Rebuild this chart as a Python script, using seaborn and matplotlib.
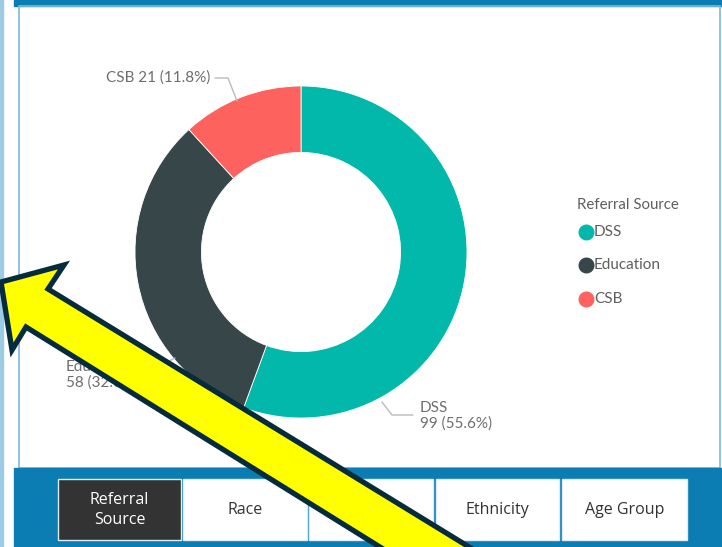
import matplotlib
matplotlib.use("Agg")
import matplotlib.pyplot as plt
from matplotlib.patches import Rectangle, Polygon
import seaborn as sns

# data
sources = ["DSS", "Education", "CSB"]
counts = [99, 58, 21]
source_colors = ["#01B8AA", "#374649", "#FD625E"]
legend_title = "Referral Source"
buttons = ["Referral\nSource", "Race", "", "Ethnicity", "Age Group"]

sns.set_theme(style="white")
plt.rcParams["font.family"] = ["Lato", "DejaVu Sans"]

W, H = 722, 547
fig = plt.figure(figsize=(W / 100, H / 100), dpi=100)
fig.patch.set_facecolor("white")

# background / report frame in pixel coords
bg = fig.add_axes([0, 0, 1, 1])
bg.set_xlim(0, W)
bg.set_ylim(H, 0)
bg.axis("off")
blue = "#0B7DB3"
bg.add_patch(Rectangle((0, 0), 3, H, color="#9CCBE4"))
bg.add_patch(Rectangle((14, 0), W - 14, 6, color=blue))
bg.add_patch(Rectangle((18.5, 6), 701, 462, fill=False, ec="#7FB8D8", lw=1.2))
bg.add_patch(Rectangle((14, 468), W - 14, H - 468, color=blue))

# slicer buttons
btn_x = [58, 183, 309, 436, 562]
btn_w = [123, 124, 124, 123, 125]
for i, (lab, x0, w) in enumerate(zip(buttons, btn_x, btn_w)):
    dark = i == 0
    bg.add_patch(Rectangle((x0, 479), w, 61, fc="#333333" if dark else "white",
                           ec="#DDEBF4", lw=1))
    bg.text(x0 + w / 2, 510, lab, ha="center", va="center", fontsize=11.5,
            color="white" if dark else "#333333", linespacing=1.35,
            family=["Open Sans", "DejaVu Sans"])

# legend
bg.text(577, 205, legend_title, ha="left", va="center", fontsize=10.8, color="#605E5C")
for name, col, y in zip(sources, source_colors, [232, 265, 299]):
    bg.plot(586, y, "o", ms=10.5, color=col)
    bg.text(594, y, name, ha="left", va="center", fontsize=11, color="#605E5C")

# donut
cx, cy, R = 301, 252, 166
ax = fig.add_axes([(cx - 200) / W, (H - cy - 200) / H, 400 / W, 400 / H])
ax.pie(counts, colors=source_colors, startangle=90, counterclock=False, radius=1,
       wedgeprops=dict(width=0.4, edgecolor="white", linewidth=0.6))
ax.set_xlim(-200 / R, 200 / R)
ax.set_ylim(-200 / R, 200 / R)
ax.axis("off")


def p2d(px, py):
    return (px - cx) / R, (cy - py) / R


total = sum(counts)
pct = [c / total * 100 for c in counts]
lab_color = "#6E6E6E"

# CSB label
tx, ty = p2d(210, 78)
ax.text(tx, ty, f"{sources[2]} {counts[2]} ({pct[2]:.1f}%)", ha="right", va="center",
        fontsize=11, color=lab_color, clip_on=False)
pts = [p2d(*p) for p in [(215, 78), (228, 78), (237, 101)]]
ax.plot([p[0] for p in pts], [p[1] for p in pts], color="#BBBBBB", lw=1, clip_on=False)

# DSS label
tx, ty = p2d(420, 416)
ax.text(tx, ty, f"{sources[0]}\n{counts[0]} ({pct[0]:.1f}%)", ha="left", va="center",
        fontsize=11, color=lab_color, linespacing=1.15, clip_on=False)
pts = [p2d(*p) for p in [(382, 402), (392, 415), (413, 415)]]
ax.plot([p[0] for p in pts], [p[1] for p in pts], color="#BBBBBB", lw=1, clip_on=False)

# Education label
tx, ty = p2d(66, 375)
ax.text(tx, ty, f"{sources[1]}\n{counts[1]} ({pct[1]:.1f}%)", ha="left", va="center",
        fontsize=11, color=lab_color, linespacing=1.15, clip_on=False)
pts = [p2d(*p) for p in [(175, 358), (160, 366), (140, 366)]]
ax.plot([p[0] for p in pts], [p[1] for p in pts], color="#BBBBBB", lw=1, clip_on=False)

# yellow callout arrow on top
ov = fig.add_axes([0, 0, 1, 1], zorder=10)
ov.set_xlim(0, W)
ov.set_ylim(H, 0)
ov.axis("off")
ov.patch.set_alpha(0)
arrow = [(1, 282), (64, 265), (48, 289), (523, 580), (433, 580), (26, 327), (12, 350)]
ov.add_patch(Polygon(arrow, closed=True, fc="#FFFF00", ec="#062B3C", lw=3.8,
                     joinstyle="miter"))

fig.savefig("out.png", dpi=100)
